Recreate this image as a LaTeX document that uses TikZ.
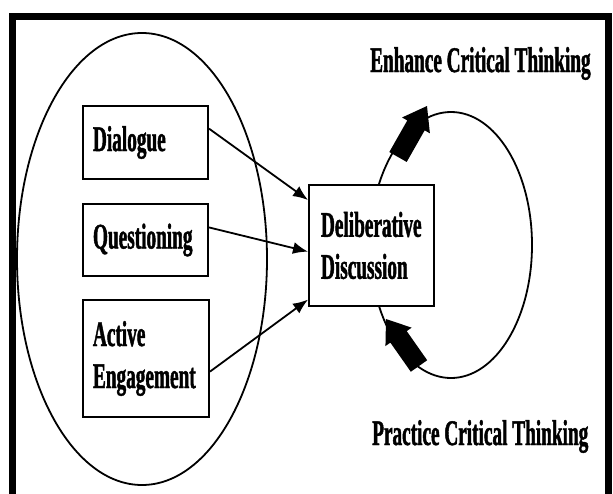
\documentclass[tikz,border=0pt]{standalone}
\usepackage{fontspec}
\setmainfont{Liberation Serif}[FakeStretch=0.535, BoldFeatures={FakeBold=1.2}]
\usetikzlibrary{calc,arrows.meta}
\newcommand\blockarrow[2]{%
  \coordinate (#1M) at ($(#1)!0.62!(#2)$);
  \fill ($(#1)!10pt!90:(#2)$) -- ($(#1M)!10pt!90:(#2)$) -- ($(#1M)!16pt!90:(#2)$) -- (#2)
     -- ($(#1M)!16pt!-90:(#2)$) -- ($(#1M)!10pt!-90:(#2)$) -- ($(#1)!10pt!-90:(#2)$) -- cycle;
}
\begin{document}
\begin{tikzpicture}[x=1pt,y=-1pt,
  lbl/.style={font=\fontsize{36}{42}\selectfont\bfseries},
  box/.style={draw, line width=2pt, fill=white, inner xsep=10pt, inner ysep=0pt,
              align=left, lbl, anchor=north west},
  conn/.style={line width=1.8pt, -{Latex[length=15pt,width=12pt]}},
  loopline/.style={line width=1.8pt}]
\useasboundingbox (0,0) rectangle (613,493);
\clip (0,0) rectangle (613,493);
% frame
\draw[line width=7pt, line join=miter] (12.5,500) -- (12.5,16.5) -- (608.5,16.5) -- (608.5,500);
% left ellipse
\draw[loopline] (142,259) ellipse [x radius=125, y radius=226];
% right loop
\draw[loopline] (451,245) ellipse [x radius=81, y radius=133];
% boxes
\node[box, minimum width=125pt, minimum height=73pt, text width=105pt] (dia) at (82,105) {Dialogue};
\node[box, minimum width=125pt, minimum height=72pt, text width=105pt] (que) at (82,203) {Questioning};
\node[box, minimum width=126pt, minimum height=117pt, text width=106pt] (act) at (82,299) {Active\\Engagement};
\node[box, minimum width=125pt, minimum height=121pt, text width=101pt, inner xsep=12pt] (del) at (308,184) {Deliberative\\Discussion};
% connectors
\draw[conn] ($(dia.north east)!0.315!(dia.south east)$) -- ($(del.north west)!0.13!(del.south west)$);
\draw[conn] ($(que.north east)!0.33!(que.south east)$) -- ($(del.north west)!0.55!(del.south west)$);
\draw[conn] ($(act.north east)!0.61!(act.south east)$) -- ($(del.north west)!0.94!(del.south west)$);
% block arrows on the loop
\coordinate (uaT) at (398,157); \coordinate (uaH) at (427,106);
\coordinate (laT) at (419,366); \coordinate (laH) at (386,319);
\blockarrow{uaT}{uaH}
\blockarrow{laT}{laH}
% titles
\node[lbl, anchor=base west, inner sep=0pt] (enh) at (370,72) {Enhance Critical Thinking};
\node[lbl, anchor=base west, inner sep=0pt] (pra) at (372,445) {Practice Critical Thinking};
\end{tikzpicture}
\end{document}
